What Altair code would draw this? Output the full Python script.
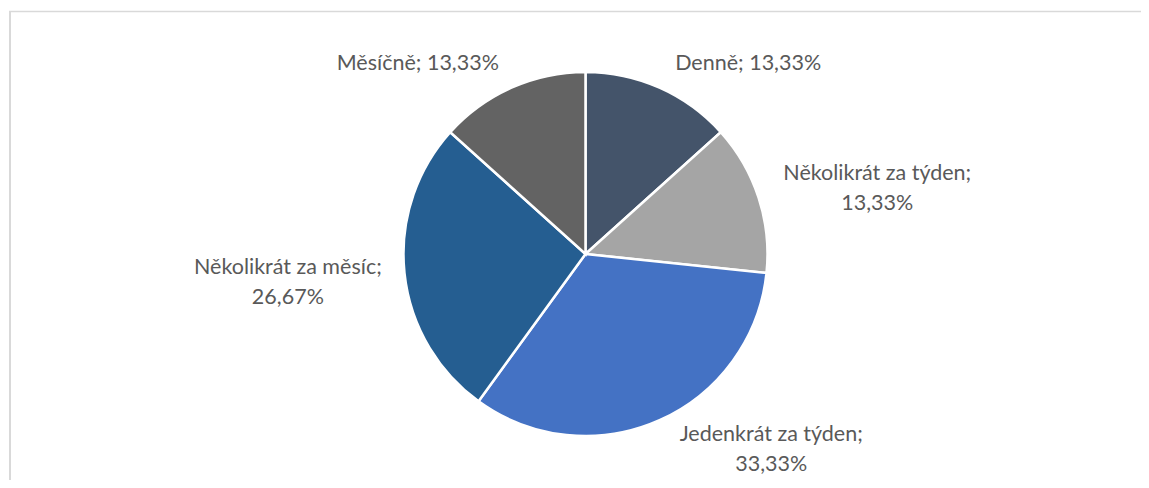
import altair as alt
import pandas as pd

categories = ["Denně", "Několikrát za týden", "Jedenkrát za týden", "Několikrát za měsíc", "Měsíčně"]
values = [13.33, 13.33, 33.33, 26.67, 13.33]
colors = ["#44546A", "#A5A5A5", "#4472C4", "#255E91", "#636363"]
two_line = [False, True, True, True, False]


def fmt(v):
    return f"{v:.2f}".replace(".", ",") + "%"


labels = []
for c, v, t in zip(categories, values, two_line):
    labels.append([c + ";", fmt(v)] if t else [c + "; " + fmt(v)])

df = pd.DataFrame({"cat": categories, "value": values, "order": list(range(len(values))), "label": labels})

W, H = 1133, 472
CX, CY, R = 577.5, 246, 182

theta = alt.Theta("value:Q", stack=True)
order = alt.Order("order:Q")

base = alt.Chart(df)

arcs = base.mark_arc(outerRadius=R, stroke="white", strokeWidth=2.5).encode(
    theta=theta,
    order=order,
    color=alt.Color("cat:N", scale=alt.Scale(domain=categories, range=colors), legend=None),
    x=alt.value(CX),
    y=alt.value(CY),
)

# label nudges (dx, dy) relative to the slice mid-angle at radius 250
nudges = {
    "Denně": (61, 38),
    "Několikrát za týden": (54, -3),
    "Jedenkrát za týden": (84, -47),
    "Několikrát za měsíc": (-49, -12),
    "Měsíčně": (-66, 38),
}

text_layers = []
for cat in categories:
    dx, dy = nudges[cat]
    text_layers.append(
        base.mark_text(
            radius=250, dx=dx, dy=dy, font="Lato", fontSize=21.5, color="#595959",
            align="center", baseline="middle", lineHeight=30,
        ).encode(
            theta=theta,
            order=order,
            x=alt.value(CX),
            y=alt.value(CY),
            text=alt.condition(alt.datum.cat == cat, "label", alt.value("")),
        )
    )

one = alt.Chart(pd.DataFrame({"a": [0]}))
border_left = one.mark_rule(color="#D9D9D9", strokeWidth=2).encode(
    x=alt.value(2), y=alt.value(3), y2=alt.value(H)
)
border_top = one.mark_rule(color="#D9D9D9", strokeWidth=1.5).encode(
    x=alt.value(1), x2=alt.value(W), y=alt.value(3.5)
)

chart = alt.layer(border_left, border_top, arcs, *text_layers).properties(
    width=W, height=H, autosize=alt.AutoSizeParams(type="none"), padding=0
).configure_view(stroke=None)

chart.save("out.html", embed_options={"renderer": "svg", "actions": False})
